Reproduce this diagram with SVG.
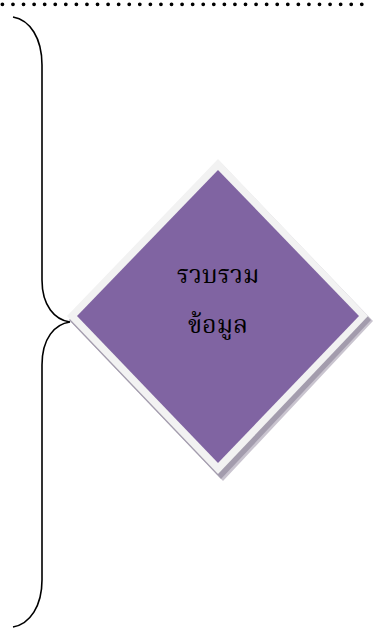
<svg xmlns="http://www.w3.org/2000/svg" width="374" height="630" viewBox="0 0 374 630">
  <style>
    .dots { fill: none; stroke: #000; stroke-width: 3.8; stroke-linecap: round; stroke-dasharray: 0 10.57; }
    .brace { fill: none; stroke: #000; stroke-width: 1.6; }
    .shadow { fill: #a39cad; }
    .shadow2 { fill: #c9c4cf; }
    .rim { fill: #f2f2f2; }
    .face { fill: #8064a2; }
    .label { font-family: "Noto Serif Thai", "Noto Sans Thai", "Tlwg Typo", "DejaVu Serif", serif; font-size: 25px; fill: #000; text-anchor: middle; }
  </style>
  <line class="dots" x1="2.4" y1="4.3" x2="362" y2="4.3"/>
  <g id="connectors">
    <path class="brace" d="M13,17 C30,20 42,38 42,65 L42,280 C42,306 55,320 70,322 C55,324 42,338 42,365 L42,580 C42,606 30,624 13,627"/>
  </g>
  <g id="node-collect">
    <polygon class="shadow2" points="221,163 373,321 223,481 70,321"/>
    <polygon class="shadow" points="220,162 371,320 221,479 69,320"/>
    <polygon class="rim" points="218,159 368,316 218,474 67,316"/>
    <polygon class="face" points="218,170 359,316 218,463 77,316"/>
    <text class="label" x="218" y="283">รวบรวม</text>
    <text class="label" x="218" y="333">ข้อมูล</text>
  </g>
</svg>
